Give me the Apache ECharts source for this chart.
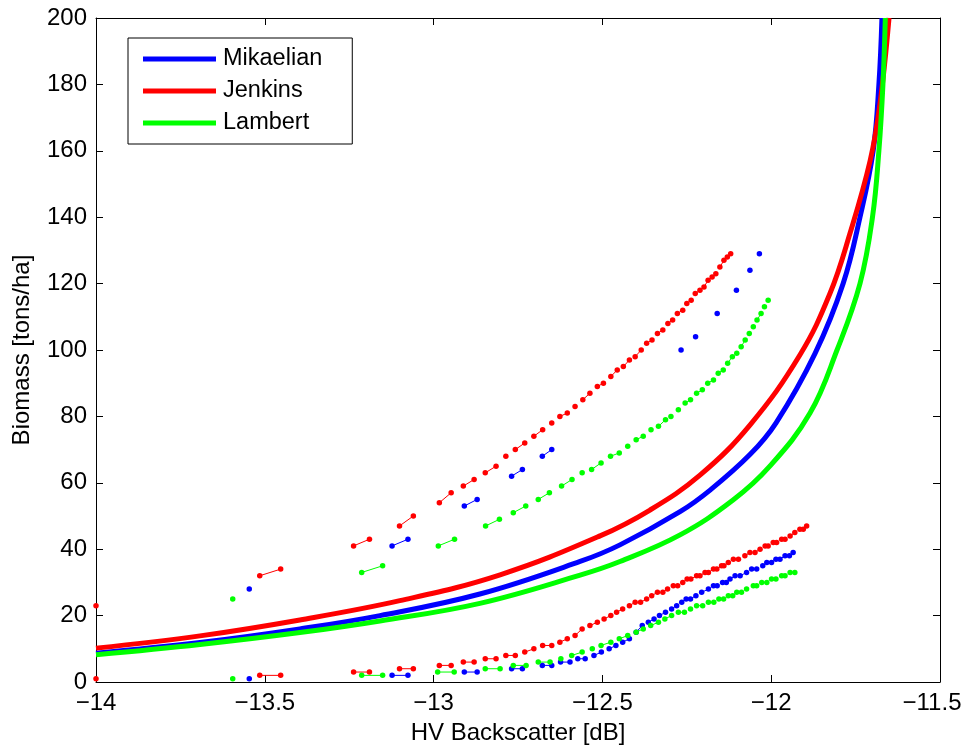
<!DOCTYPE html>
<html>
<head>
<meta charset="utf-8">
<script src="https://cdn.jsdelivr.net/npm/echarts@6/dist/echarts.min.js"></script>
<style>
html,body{margin:0;padding:0;background:#fff;}
#chart{width:963px;height:746px;}
</style>
</head>
<body>
<div id="chart"></div>
<script>
// ---------- data ----------
const xTicks = [-14, -13.5, -13, -12.5, -12, -11.5];
const yTicks = [0, 20, 40, 60, 80, 100, 120, 140, 160, 180, 200];
const seriesNames = ['Mikaelian', 'Jenkins', 'Lambert'];

// model curves [backscatter dB, biomass]
const mikaelianCurve = [[-14.000,8.7],[-13.692,11.9],[-13.396,16.0],[-13.159,20.0],[-12.863,26.5],[-12.566,36.3],[-12.448,41.3],[-12.270,51.3],[-12.181,57.8],[-12.063,68.5],[-11.986,78],[-11.870,99],[-11.787,120],[-11.737,140],[-11.698,160],[-11.681,180],[-11.672,200]];
const jenkinsCurve = [[-14.000,10.2],[-13.692,13.9],[-13.396,18.7],[-13.100,24.5],[-12.803,32.3],[-12.507,44.0],[-12.359,51.8],[-12.211,62.3],[-12.063,77.4],[-11.915,98.5],[-11.826,117],[-11.767,135],[-11.707,157],[-11.678,174],[-11.651,200]];
const lambertCurve = [[-14.000,8.2],[-13.692,11.3],[-13.396,14.9],[-13.159,18.4],[-12.863,23.7],[-12.566,32.2],[-12.448,36.3],[-12.270,44.3],[-12.113,54.8],[-12.004,65],[-11.885,81],[-11.805,100],[-11.737,120],[-11.700,140],[-11.681,160],[-11.669,180],[-11.662,200]];

// measured points; null = break in the connecting line
const jenkinsLow = [[-14.000,1],null,[-13.515,2],[-13.453,2],null,[-13.237,3],[-13.190,3],null,[-13.101,4],[-13.060,4],null,[-12.983,5],[-12.948,5],null,[-12.912,6],[-12.880,6],null,[-12.847,7],[-12.815,7],null,[-12.786,8],[-12.758,8],null,[-12.730,9],[-12.703,10],null,[-12.677,11],[-12.650,11],null,[-12.626,12],[-12.604,13],null,[-12.581,14],[-12.560,16],null,[-12.537,17],[-12.515,18],null,[-12.495,19],[-12.475,20],null,[-12.458,21],[-12.440,22],null,[-12.420,23],[-12.403,24],null,[-12.387,24],[-12.369,25],null,[-12.354,26],[-12.337,27],null,[-12.321,27],[-12.307,28],null,[-12.290,29],[-12.277,29],null,[-12.262,30],[-12.249,31],null,[-12.238,31],[-12.221,32],null,[-12.211,32],[-12.196,33],null,[-12.186,33],[-12.171,34],null,[-12.161,34],[-12.147,35],null,[-12.140,35],[-12.127,36],null,[-12.112,37],[-12.097,37],null,[-12.078,38],[-12.063,39],null,[-12.048,39],[-12.033,40],null,[-12.018,41],[-12.009,41],null,[-11.994,42],[-11.984,42],null,[-11.969,43],[-11.959,43],null,[-11.944,44],[-11.930,45],null,[-11.915,46],[-11.905,46],[-11.895,47]];
const jenkinsHigh = [[-14.000,23],null,[-13.515,32],[-13.453,34],null,[-13.237,41],[-13.190,43],null,[-13.101,47],[-13.060,50],null,[-12.983,54],[-12.948,57],null,[-12.912,59],[-12.880,61],null,[-12.847,63],[-12.815,65],null,[-12.786,68],null,[-12.758,70],[-12.730,72],null,[-12.703,74],[-12.677,76],null,[-12.650,78],null,[-12.626,80],[-12.604,81],null,[-12.581,83],null,[-12.558,85],[-12.537,87],null,[-12.515,89],[-12.497,90],null,[-12.475,92],[-12.456,94],null,[-12.438,95],[-12.420,97],null,[-12.403,98],[-12.385,100],null,[-12.369,102],[-12.353,103],null,[-12.337,105],[-12.321,106],null,[-12.306,108],[-12.292,109],null,[-12.278,111],[-12.262,112],null,[-12.250,114],[-12.237,115],null,[-12.225,117],[-12.211,118],null,[-12.199,119],[-12.187,121],null,[-12.175,122],[-12.164,123],null,[-12.152,125],[-12.140,127],null,[-12.130,128],[-12.120,129]];
const mikaelianLow = [[-13.546,1],null,[-13.123,2],[-13.076,2],null,[-12.909,3],[-12.871,3],null,[-12.769,4],[-12.737,4],null,[-12.678,5],[-12.650,5],null,[-12.624,6],[-12.596,6],null,[-12.573,7],[-12.551,7],null,[-12.525,8],[-12.503,9],null,[-12.480,10],[-12.460,11],null,[-12.440,12],[-12.420,13],null,[-12.400,15],[-12.382,17],null,[-12.364,18],[-12.347,19],null,[-12.331,20],[-12.313,21],null,[-12.295,22],[-12.280,23],null,[-12.265,24],[-12.252,25],null,[-12.239,25],[-12.223,26],null,[-12.206,27],[-12.186,28],null,[-12.171,29],[-12.160,29],null,[-12.144,30],[-12.133,30],null,[-12.122,31],[-12.107,32],null,[-12.092,32],[-12.073,33],null,[-12.058,34],[-12.043,34],null,[-12.025,35],[-12.013,36],null,[-11.999,36],[-11.986,37],null,[-11.974,37],[-11.959,38],null,[-11.946,38],[-11.935,39]];
const mikaelianHigh = [[-13.546,28],null,[-13.123,41],[-13.076,43],null,[-12.909,53],[-12.871,55],null,[-12.769,62],[-12.737,64],null,[-12.678,68],[-12.650,70],null,[-12.267,100],null,[-12.224,104],null,[-12.160,111],null,[-12.103,118],null,[-12.063,124],null,[-12.035,129]];
const lambertLow = [[-13.595,1],null,[-13.213,2],[-13.151,2],null,[-12.988,3],[-12.939,3],null,[-12.847,4],[-12.803,4],null,[-12.764,5],[-12.726,5],null,[-12.690,6],[-12.655,6],null,[-12.623,7],null,[-12.591,8],[-12.560,9],null,[-12.530,10],null,[-12.504,11],[-12.475,12],null,[-12.450,13],[-12.425,14],null,[-12.400,15],[-12.379,16],null,[-12.357,17],[-12.334,18],null,[-12.315,19],[-12.295,20],null,[-12.275,21],[-12.257,21],null,[-12.239,22],null,[-12.221,23],[-12.203,23],null,[-12.186,24],[-12.170,24],null,[-12.155,25],[-12.141,25],null,[-12.127,26],[-12.114,26],null,[-12.102,27],[-12.088,27],null,[-12.073,28],null,[-12.053,29],[-12.043,29],null,[-12.028,30],[-12.013,30],null,[-11.999,31],[-11.986,31],null,[-11.969,32],[-11.959,32],null,[-11.944,33],[-11.930,33]];
const lambertHigh = [[-13.595,25],null,[-13.213,33],[-13.151,35],null,[-12.986,41],[-12.938,43],null,[-12.846,47],[-12.805,49],null,[-12.764,51],[-12.727,53],null,[-12.690,55],[-12.657,57],null,[-12.621,59],[-12.590,61],null,[-12.560,63],null,[-12.532,64],[-12.504,66],null,[-12.476,68],[-12.450,69],null,[-12.425,71],null,[-12.400,73],[-12.379,74],null,[-12.356,76],null,[-12.334,77],[-12.313,79],null,[-12.297,80],null,[-12.275,82],null,[-12.255,84],[-12.239,85],null,[-12.221,87],[-12.204,88],null,[-12.188,90],[-12.171,91],null,[-12.157,93],[-12.142,94],null,[-12.129,96],[-12.115,98],null,[-12.102,99],null,[-12.089,101],[-12.077,103],null,[-12.065,105],null,[-12.053,107],null,[-12.042,109],[-12.030,111],null,[-12.020,113],null,[-12.009,115]];

// ---------- chart ----------
const BLUE = '#0000ff', RED = '#ff0000', GREEN = '#00ff00';
const FONT = 'Liberation Sans, Arial, Helvetica, sans-serif';
const FS = 24;

function withBreaks(arr) {
  return arr.map(p => p === null ? ['-', '-'] : p);
}
const xLast = xTicks[xTicks.length - 1];
function fmtX(v) {
  const s = v < 0 ? '\u2212' + String(Math.abs(v)) : String(v);
  return v === xLast ? '{edge|' + s + '}' : s;
}
function curve(name, data, color) {
  return {
    name: name, type: 'line', data: data, smooth: 0.4, showSymbol: false,
    symbol: 'none', lineStyle: { color: color, width: 5 }, itemStyle: { color: color },
    clip: true, z: 2
  };
}
function dots(name, data, color) {
  return {
    name: name, type: 'line', data: withBreaks(data), connectNulls: false,
    symbol: 'circle', symbolSize: 5.5, showSymbol: true,
    lineStyle: { color: color, width: 1 }, itemStyle: { color: color },
    clip: true, z: 3
  };
}

const xMin = xTicks[0], xMax = xLast;
const xStep = xTicks[1] - xTicks[0];
const yMin = yTicks[0], yMax = yTicks[yTicks.length - 1];
const yStep = yTicks[1] - yTicks[0];

const tick = { show: true, inside: true, length: 7, lineStyle: { color: '#000', width: 1 } };
const line = { show: true, onZero: false, lineStyle: { color: '#000', width: 1 } };

const chart = echarts.init(document.getElementById('chart'), null, { renderer: 'canvas' });
chart.setOption({
  animation: false,
  backgroundColor: '#fff',
  textStyle: { fontFamily: FONT },
  grid: { left: 96, right: 23, top: 18, bottom: 64, containLabel: false, outerBoundsMode: 'none' },
  legend: {
    data: seriesNames,
    orient: 'vertical',
    left: 128, top: 38,
    icon: 'rect', itemWidth: 73, itemHeight: 5, itemGap: 8,
    padding: [9, 30, 9, 15],
    borderColor: '#000', borderWidth: 1, backgroundColor: '#fff',
    textStyle: { fontFamily: FONT, fontSize: 23.5, color: '#000', lineHeight: 24, padding: [0, 0, 0, 2] },
    selectedMode: false
  },
  xAxis: [
    {
      type: 'value', position: 'bottom', min: xMin, max: xMax, interval: xStep,
      name: 'HV Backscatter [dB]', nameLocation: 'middle', nameGap: 39,
      nameTextStyle: { fontFamily: FONT, fontSize: FS, color: '#000' },
      axisLine: line, axisTick: tick, splitLine: { show: false },
      axisLabel: {
        color: '#000', fontFamily: FONT, fontSize: FS, margin: 9, formatter: fmtX,
        rich: { edge: { fontFamily: FONT, fontSize: FS, color: '#000', padding: [0, 16, 0, 0] } }
      }
    },
    {
      type: 'value', position: 'top', min: xMin, max: xMax, interval: xStep,
      axisLine: line, axisTick: tick, splitLine: { show: false }, axisLabel: { show: false }
    }
  ],
  yAxis: [
    {
      type: 'value', position: 'left', min: yMin, max: yMax, interval: yStep,
      name: 'Biomass [tons/ha]', nameLocation: 'middle', nameGap: 62, nameRotate: 90,
      nameTextStyle: { fontFamily: FONT, fontSize: FS, color: '#000' },
      axisLine: line, axisTick: tick, splitLine: { show: false },
      axisLabel: { color: '#000', fontFamily: FONT, fontSize: FS, margin: 9 }
    },
    {
      type: 'value', position: 'right', min: yMin, max: yMax, interval: yStep,
      axisLine: line, axisTick: tick, splitLine: { show: false }, axisLabel: { show: false }
    }
  ],
  series: [
    curve('Mikaelian', mikaelianCurve, BLUE),
    curve('Jenkins', jenkinsCurve, RED),
    curve('Lambert', lambertCurve, GREEN),
    dots('Jenkins data (high)', jenkinsHigh, RED),
    dots('Jenkins data (low)', jenkinsLow, RED),
    dots('Mikaelian data (high)', mikaelianHigh, BLUE),
    dots('Mikaelian data (low)', mikaelianLow, BLUE),
    dots('Lambert data (high)', lambertHigh, GREEN),
    dots('Lambert data (low)', lambertLow, GREEN)
  ]
});
</script>
</body>
</html>
